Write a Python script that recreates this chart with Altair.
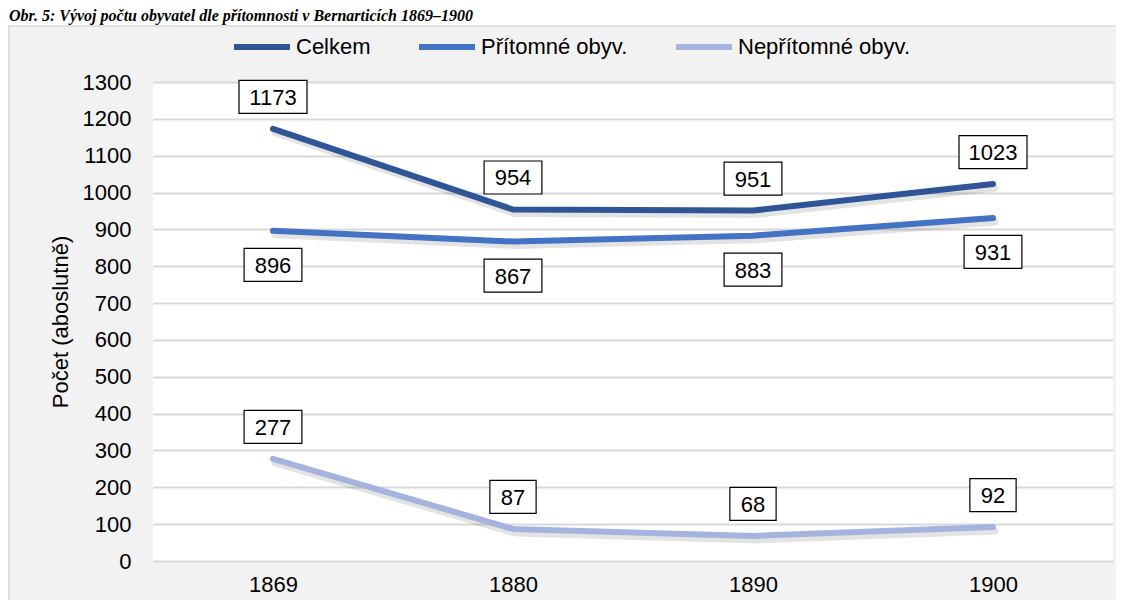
import altair as alt
import pandas as pd

years = ["1869", "1880", "1890", "1900"]
series_names = ["Celkem", "Přítomné obyv.", "Nepřítomné obyv."]
celkem = [1173, 954, 951, 1023]
pritomne = [896, 867, 883, 931]
nepritomne = [277, 87, 68, 92]
label_side = {"Celkem": "above", "Přítomné obyv.": "below", "Nepřítomné obyv.": "above"}
colors = ["#2f5597", "#4472c4", "#a5b4de"]

title_text = "Obr. 5: Vývoj počtu obyvatel dle přítomnosti v Bernarticích 1869–1900"
y_title = "Počet (aboslutně)"

rows = []
for name, vals in zip(series_names, [celkem, pritomne, nepritomne]):
    for yr, v in zip(years, vals):
        rows.append({"serie": name, "rok": yr, "pocet": v,
                     "digits": str(len(str(v))), "side": label_side[name]})
df = pd.DataFrame(rows)

FONT = "Liberation Sans"
W, H = 960, 479

x_enc = alt.X("rok:O", scale=alt.Scale(type="point", padding=0.5), sort=years,
              axis=alt.Axis(title=None, labelAngle=0, labelFontSize=22, labelFont=FONT,
                            labelColor="#000000", labelPadding=13, ticks=False, domain=False,
                            grid=False))
y_enc = alt.Y("pocet:Q", scale=alt.Scale(domain=[0, 1300], nice=False),
              axis=alt.Axis(title=y_title, values=list(range(0, 1301, 100)), format="d",
                            labelFontSize=22, labelFont=FONT, labelColor="#000000",
                            labelPadding=22, ticks=False, domain=False,
                            grid=True, gridColor="#d9d9d9", gridWidth=1.8,
                            titleFontSize=22, titleFont=FONT, titleFontWeight="normal",
                            titleColor="#000000", titlePadding=10))

base = alt.Chart(df)

shadow = base.mark_line(strokeWidth=7, strokeCap="round", strokeJoin="round",
                        color="#000000", opacity=0.11).encode(
    x=x_enc, y=y_enc, detail="serie:N",
    xOffset=alt.value(2), yOffset=alt.value(4))

lines = base.mark_line(strokeWidth=6, strokeCap="round", strokeJoin="round").encode(
    x=x_enc, y=y_enc,
    color=alt.Color("serie:N", sort=series_names,
                    scale=alt.Scale(domain=series_names, range=colors),
                    legend=alt.Legend(title=None, orient="none", direction="horizontal",
                                      legendX=78, legendY=-66, symbolType="stroke",
                                      symbolStrokeWidth=6, symbolSize=3136,
                                      labelFontSize=22, labelFont=FONT, labelColor="#000000",
                                      labelFontWeight="normal", labelLimit=400,
                                      labelOffset=3, columnPadding=36, padding=0)))

R = 34.0
box_paths = {
    "4": "M-1,-0.485L1,-0.485L1,0.485L-1,0.485Z",
    "3": "M-0.85,-0.485L0.85,-0.485L0.85,0.485L-0.85,0.485Z",
    "2": "M-0.68,-0.485L0.68,-0.485L0.68,0.485L-0.68,0.485Z",
}
shape_scale = alt.Scale(domain=list(box_paths.keys()), range=list(box_paths.values()))


def label_layers(side, off):
    sub = base.transform_filter(alt.datum.side == side)
    boxes = sub.mark_point(filled=True, fill="#ffffff", stroke="#000000", strokeWidth=1.2,
                           opacity=1, size=(2 * R) ** 2).encode(
        x=x_enc, y=y_enc,
        shape=alt.Shape("digits:N", scale=shape_scale, legend=None),
        yOffset=alt.value(off))
    texts = sub.mark_text(fontSize=22, font=FONT, color="#000000", baseline="middle",
                          align="center", dy=off + 1).encode(
        x=x_enc, y=y_enc, text="pocet:Q")
    return [boxes, texts]


one = pd.DataFrame({"a": [0]})
top_strip = alt.Chart(one).mark_rect(fill="#ffffff", strokeWidth=0).encode(
    x=alt.value(-146), x2=alt.value(W + 4), y=alt.value(-75), y2=alt.value(-56))
border_left = alt.Chart(one).mark_rule(color="#d9d9d9", strokeWidth=1.5).encode(
    x=alt.value(-144.2), y=alt.value(-56), y2=alt.value(H + 40))
border_top = alt.Chart(one).mark_rule(color="#d9d9d9", strokeWidth=1.5).encode(
    x=alt.value(-145), x2=alt.value(W + 4), y=alt.value(-56))

title = alt.Chart(pd.DataFrame({"t": [title_text]})).mark_text(
    font="Liberation Serif", fontSize=16, fontWeight="bold", fontStyle="italic",
    align="left", baseline="alphabetic", color="#000000").encode(
    x=alt.value(-144), y=alt.value(-61), text="t:N")

layers = [top_strip, border_left, border_top, title, shadow, lines]
layers += label_layers("above", -32)
layers += label_layers("below", 34)

chart = alt.layer(*layers).properties(
    width=W, height=H, autosize="none",
    padding={"left": 145, "top": 74, "right": 3, "bottom": 39},
    background="#f2f2f2",
).configure_view(fill="#ffffff", stroke=None)

chart.save("out.html", embed_options={"renderer": "svg", "actions": False})
